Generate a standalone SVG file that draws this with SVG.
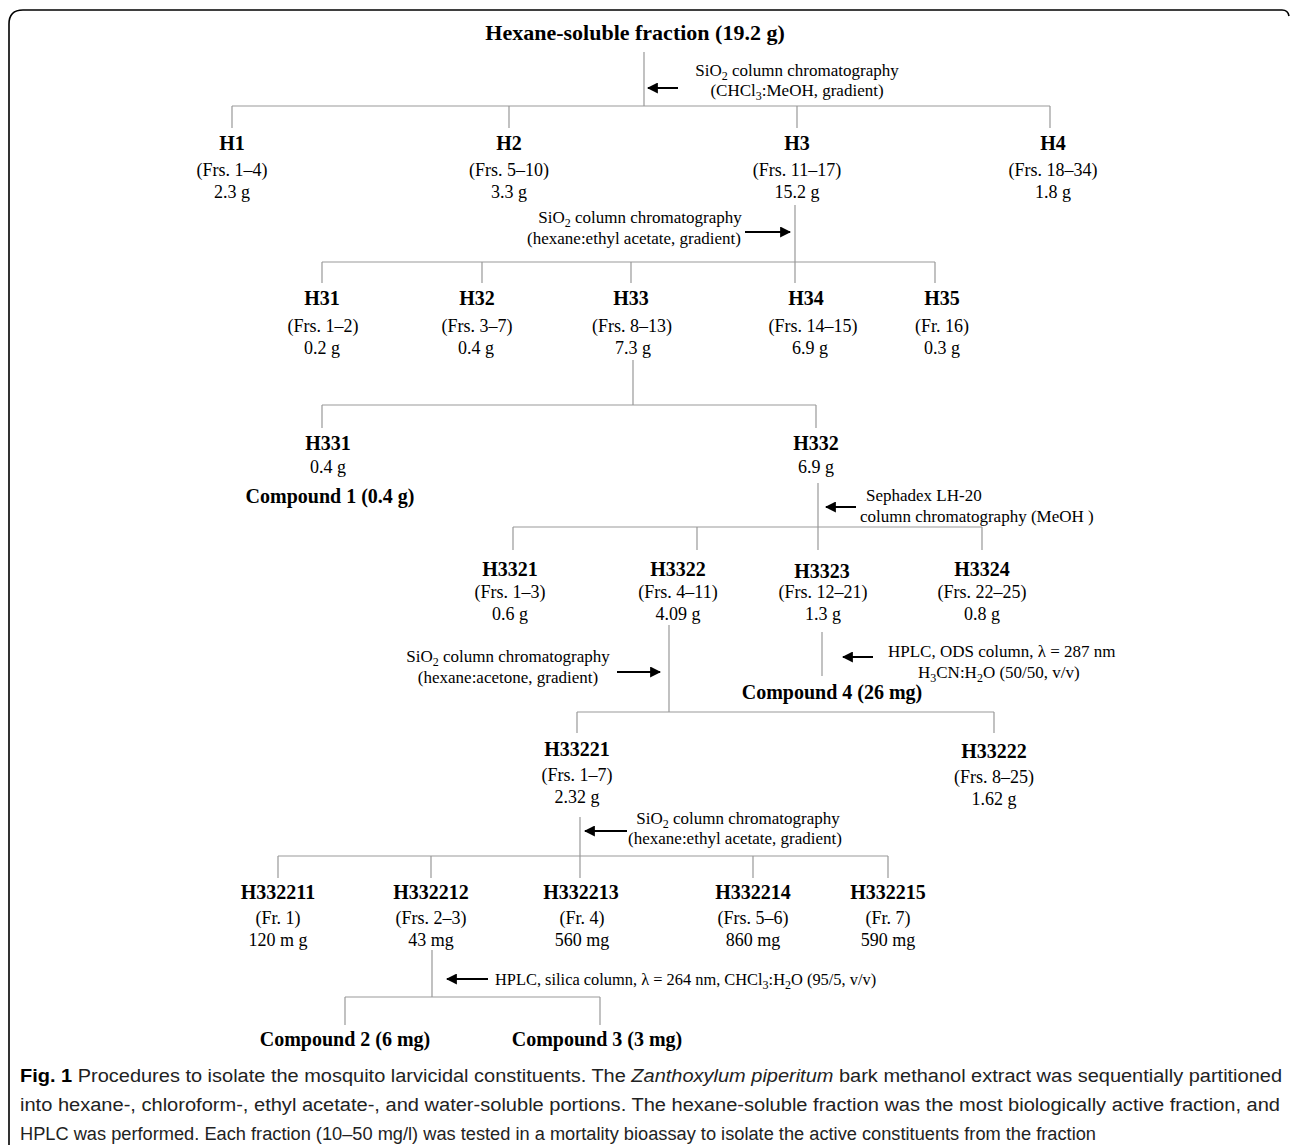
<svg xmlns="http://www.w3.org/2000/svg" width="1290" height="1145" viewBox="0 0 1290 1145">
<defs>
<style>
.b{font-family:"Liberation Serif","Times New Roman",serif;font-weight:bold;font-size:20px;fill:#000;text-anchor:middle}
.t{font-family:"Liberation Serif","Times New Roman",serif;font-size:17px;fill:#000;text-anchor:middle}
.d{font-size:18px}
.l{text-anchor:start}
.ln{stroke:#999;stroke-width:1.2;fill:none}
.ar{stroke:#000;stroke-width:2;fill:none}
.cap{font-family:"Liberation Sans",Arial,sans-serif;font-size:18px;fill:#222}
</style>
<marker id="ah" viewBox="0 0 10 10" refX="9" refY="5" markerWidth="5.5" markerHeight="5.5" orient="auto" markerUnits="strokeWidth">
<path d="M0,0 L10,5 L0,10 z" fill="#000"/>
</marker>
</defs>
<rect width="1290" height="1145" fill="#fff"/>
<path d="M9,1145 V24 Q9,10 23,10 H1282 Q1288,10 1289,16" fill="none" stroke="#000" stroke-width="1.6"/>

<g id="connectors">
<path class="ln" d="M644,52 V106 M232,106 H1050 M232,106 V128 M509,106 V128 M797,106 V128 M1050,106 V128"/>
<path class="ln" d="M795,205 V283 M322,262 H935 M322,262 V283 M482,262 V283 M631,262 V283 M935,262 V283"/>
<path class="ln" d="M633,360 V405 M322,405 H816 M322,405 V428 M816,405 V428"/>
<path class="ln" d="M818,483 V550 M513,527 H982 M513,527 V550 M697,527 V550 M982,527 V550"/>
<path class="ln" d="M669,625 V712 M577,712 H994 M577,712 V733 M994,712 V733"/>
<path class="ln" d="M822,632 V676"/>
<path class="ln" d="M580,817 V878 M278,856 H888 M278,856 V878 M431,856 V878 M753,856 V878 M888,856 V878"/>
<path class="ln" d="M432,950 V997 M345,997 H600 M345,997 V1025 M600,997 V1025"/>
<line class="ar" x1="678" y1="88" x2="648" y2="88" marker-end="url(#ah)"/>
<line class="ar" x1="745" y1="232" x2="790" y2="232" marker-end="url(#ah)"/>
<line class="ar" x1="856" y1="507" x2="826" y2="507" marker-end="url(#ah)"/>
<line class="ar" x1="873" y1="657" x2="843" y2="657" marker-end="url(#ah)"/>
<line class="ar" x1="617" y1="672" x2="660" y2="672" marker-end="url(#ah)"/>
<line class="ar" x1="627" y1="831" x2="585" y2="831" marker-end="url(#ah)"/>
<line class="ar" x1="488" y1="979" x2="447" y2="979" marker-end="url(#ah)"/>
</g>

<g id="labels">
<text class="t" x="797" y="76">SiO<tspan dy="4" font-size="12">2</tspan><tspan dy="-4"> column chromatography</tspan></text>
<text class="t" x="797" y="96">(CHCl<tspan dy="4" font-size="12">3</tspan><tspan dy="-4">:MeOH, gradient)</tspan></text>
<text class="t" x="640" y="223">SiO<tspan dy="4" font-size="12">2</tspan><tspan dy="-4"> column chromatography</tspan></text>
<text class="t" x="634" y="244">(hexane:ethyl acetate, gradient)</text>
<text class="t l" x="866" y="501">Sephadex LH-20</text>
<text class="t l" x="860" y="522">column chromatography (MeOH )</text>
<text class="t" x="508" y="662">SiO<tspan dy="4" font-size="12">2</tspan><tspan dy="-4"> column chromatography</tspan></text>
<text class="t" x="508" y="683">(hexane:acetone, gradient)</text>
<text class="t l" x="888" y="657">HPLC, ODS column, λ = 287 nm</text>
<text class="t l" x="918" y="678">H<tspan dy="4" font-size="12">3</tspan><tspan dy="-4">CN:H</tspan><tspan dy="4" font-size="12">2</tspan><tspan dy="-4">O (50/50, v/v)</tspan></text>
<text class="t" x="738" y="824">SiO<tspan dy="4" font-size="12">2</tspan><tspan dy="-4"> column chromatography</tspan></text>
<text class="t" x="735" y="844">(hexane:ethyl acetate, gradient)</text>
<text class="t l" x="495" y="985" style="font-size:16.4px">HPLC, silica column, λ = 264 nm, CHCl<tspan dy="4" font-size="12">3</tspan><tspan dy="-4">:H</tspan><tspan dy="4" font-size="12">2</tspan><tspan dy="-4">O (95/5, v/v)</tspan></text>
</g>

<g id="n-root"><text class="b" x="635" y="40" style="font-size:22px">Hexane-soluble fraction (19.2 g)</text></g>
<g id="n-H1"><text class="b" x="232" y="150">H1</text><text class="t d" x="232" y="176">(Frs. 1–4)</text><text class="t d" x="232" y="198">2.3 g</text></g>
<g id="n-H2"><text class="b" x="509" y="150">H2</text><text class="t d" x="509" y="176">(Frs. 5–10)</text><text class="t d" x="509" y="198">3.3 g</text></g>
<g id="n-H3"><text class="b" x="797" y="150">H3</text><text class="t d" x="797" y="176">(Frs. 11–17)</text><text class="t d" x="797" y="198">15.2 g</text></g>
<g id="n-H4"><text class="b" x="1053" y="150">H4</text><text class="t d" x="1053" y="176">(Frs. 18–34)</text><text class="t d" x="1053" y="198">1.8 g</text></g>

<g id="n-H31"><text class="b" x="322" y="305">H31</text><text class="t d" x="323" y="332">(Frs. 1–2)</text><text class="t d" x="322" y="354">0.2 g</text></g>
<g id="n-H32"><text class="b" x="477" y="305">H32</text><text class="t d" x="477" y="332">(Frs. 3–7)</text><text class="t d" x="476" y="354">0.4 g</text></g>
<g id="n-H33"><text class="b" x="631" y="305">H33</text><text class="t d" x="632" y="332">(Frs. 8–13)</text><text class="t d" x="633" y="354">7.3 g</text></g>
<g id="n-H34"><text class="b" x="806" y="305">H34</text><text class="t d" x="813" y="332">(Frs. 14–15)</text><text class="t d" x="810" y="354">6.9 g</text></g>
<g id="n-H35"><text class="b" x="942" y="305">H35</text><text class="t d" x="942" y="332">(Fr. 16)</text><text class="t d" x="942" y="354">0.3 g</text></g>

<g id="n-H331"><text class="b" x="328" y="450">H331</text><text class="t d" x="328" y="473">0.4 g</text><text class="b" x="330" y="503">Compound 1 (0.4 g)</text></g>
<g id="n-H332"><text class="b" x="816" y="450">H332</text><text class="t d" x="816" y="473">6.9 g</text></g>

<g id="n-H3321"><text class="b" x="510" y="576">H3321</text><text class="t d" x="510" y="598">(Frs. 1–3)</text><text class="t d" x="510" y="620">0.6 g</text></g>
<g id="n-H3322"><text class="b" x="678" y="576">H3322</text><text class="t d" x="678" y="598">(Frs. 4–11)</text><text class="t d" x="678" y="620">4.09 g</text></g>
<g id="n-H3323"><text class="b" x="822" y="578">H3323</text><text class="t d" x="823" y="598">(Frs. 12–21)</text><text class="t d" x="823" y="620">1.3 g</text><text class="b" x="832" y="699">Compound 4 (26 mg)</text></g>
<g id="n-H3324"><text class="b" x="982" y="576">H3324</text><text class="t d" x="982" y="598">(Frs. 22–25)</text><text class="t d" x="982" y="620">0.8 g</text></g>

<g id="n-H33221"><text class="b" x="577" y="756">H33221</text><text class="t d" x="577" y="781">(Frs. 1–7)</text><text class="t d" x="577" y="803">2.32 g</text></g>
<g id="n-H33222"><text class="b" x="994" y="758">H33222</text><text class="t d" x="994" y="783">(Frs. 8–25)</text><text class="t d" x="994" y="805">1.62 g</text></g>

<g id="n-H332211"><text class="b" x="278" y="899">H332211</text><text class="t d" x="278" y="924">(Fr. 1)</text><text class="t d" x="278" y="946">120 m g</text></g>
<g id="n-H332212"><text class="b" x="431" y="899">H332212</text><text class="t d" x="431" y="924">(Frs. 2–3)</text><text class="t d" x="431" y="946">43 mg</text></g>
<g id="n-H332213"><text class="b" x="581" y="899">H332213</text><text class="t d" x="582" y="924">(Fr. 4)</text><text class="t d" x="582" y="946">560 mg</text></g>
<g id="n-H332214"><text class="b" x="753" y="899">H332214</text><text class="t d" x="753" y="924">(Frs. 5–6)</text><text class="t d" x="753" y="946">860 mg</text></g>
<g id="n-H332215"><text class="b" x="888" y="899">H332215</text><text class="t d" x="888" y="924">(Fr. 7)</text><text class="t d" x="888" y="946">590 mg</text></g>

<g id="n-c2"><text class="b" x="345" y="1046">Compound 2 (6 mg)</text></g>
<g id="n-c3"><text class="b" x="597" y="1046">Compound 3 (3 mg)</text></g>

<g id="caption">
<text class="cap" x="20" y="1082" textLength="1262" lengthAdjust="spacingAndGlyphs"><tspan font-weight="bold" fill="#000">Fig. 1</tspan> Procedures to isolate the mosquito larvicidal constituents. The <tspan font-style="italic">Zanthoxylum piperitum</tspan> bark methanol extract was sequentially partitioned</text>
<text class="cap" x="20" y="1111" textLength="1260" lengthAdjust="spacingAndGlyphs">into hexane-, chloroform-, ethyl acetate-, and water-soluble portions. The hexane-soluble fraction was the most biologically active fraction, and</text>
<text class="cap" x="20" y="1140" textLength="1076" lengthAdjust="spacingAndGlyphs">HPLC was performed. Each fraction (10–50 mg/l) was tested in a mortality bioassay to isolate the active constituents from the fraction</text>
</g>
</svg>
